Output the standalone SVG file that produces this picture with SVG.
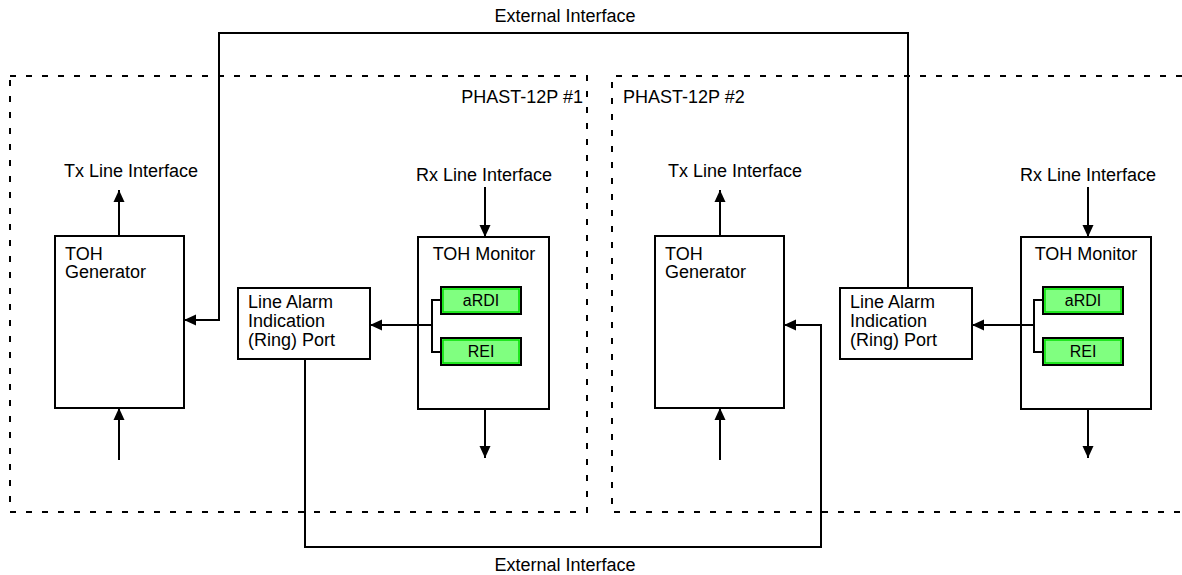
<svg xmlns="http://www.w3.org/2000/svg" width="1182" height="575" viewBox="0 0 1182 575">
<defs>
<marker id="ah" markerWidth="12" markerHeight="12" viewBox="0 0 12 12" refX="12" refY="6" orient="auto" markerUnits="userSpaceOnUse">
<path d="M0,0.5 L12,6 L0,11.5 Z" fill="#000"/>
</marker>
<style>
text{font-family:"Liberation Sans",Arial,sans-serif;font-size:18px;fill:#000}
.sm{font-size:16px}
.box{fill:#fff;stroke:#000;stroke-width:2}
.grn{fill:#80ff80;stroke:#000;stroke-width:2}
.gin{fill:none;stroke:#00e000;stroke-width:1.5}
.dash{fill:none;stroke:#000;stroke-width:2;stroke-dasharray:6 10}
.ln{fill:none;stroke:#000;stroke-width:2}
.arr{fill:none;stroke:#000;stroke-width:2;marker-end:url(#ah)}
</style>
</defs>
<rect width="1182" height="575" fill="#fff"/>
<g id="chip1">
<path class="dash" d="M10,76 H587 V512 H10 Z"/>
<text x="583" y="103" text-anchor="end">PHAST-12P #1</text>
</g>
<g id="chip2">
<path class="dash" d="M1182,76 H612 V512 H1182"/>
<text x="623" y="103">PHAST-12P #2</text>
</g>
<g id="gen1">
<rect class="box" x="55" y="236" width="129" height="172"/>
<text x="65" y="260">TOH</text>
<text x="65" y="278">Generator</text>
</g>
<g id="lai1">
<rect class="box" x="238" y="288" width="132" height="71"/>
<text x="248" y="308">Line Alarm</text>
<text x="248" y="327">Indication</text>
<text x="248" y="346">(Ring) Port</text>
</g>
<g id="mon1">
<rect class="box" x="418" y="237" width="131" height="172"/>
<text x="484" y="260" text-anchor="middle">TOH Monitor</text>
</g>
<g id="ardi1">
<rect class="grn" x="441" y="287" width="80" height="27"/>
<rect class="gin" x="443" y="289" width="76" height="23"/>
<text class="sm" x="481" y="306" text-anchor="middle">aRDI</text>
</g>
<g id="rei1">
<rect class="grn" x="441" y="338" width="80" height="27"/>
<rect class="gin" x="443" y="340" width="76" height="23"/>
<text class="sm" x="481" y="357" text-anchor="middle">REI</text>
</g>
<g id="gen2">
<rect class="box" x="655" y="236" width="129" height="172"/>
<text x="665" y="260">TOH</text>
<text x="665" y="278">Generator</text>
</g>
<g id="lai2">
<rect class="box" x="840" y="288" width="132" height="71"/>
<text x="850" y="308">Line Alarm</text>
<text x="850" y="327">Indication</text>
<text x="850" y="346">(Ring) Port</text>
</g>
<g id="mon2">
<rect class="box" x="1021" y="237" width="130" height="172"/>
<text x="1086" y="260" text-anchor="middle">TOH Monitor</text>
</g>
<g id="ardi2">
<rect class="grn" x="1043" y="287" width="80" height="27"/>
<rect class="gin" x="1045" y="289" width="76" height="23"/>
<text class="sm" x="1083" y="306" text-anchor="middle">aRDI</text>
</g>
<g id="rei2">
<rect class="grn" x="1043" y="338" width="80" height="27"/>
<rect class="gin" x="1045" y="340" width="76" height="23"/>
<text class="sm" x="1083" y="357" text-anchor="middle">REI</text>
</g>
<g id="labels">
<text x="565" y="22" text-anchor="middle">External Interface</text>
<text x="565" y="571" text-anchor="middle">External Interface</text>
<text x="131" y="177" text-anchor="middle">Tx Line Interface</text>
<text x="484" y="181" text-anchor="middle">Rx Line Interface</text>
<text x="735" y="177" text-anchor="middle">Tx Line Interface</text>
<text x="1088" y="181" text-anchor="middle">Rx Line Interface</text>
</g>
<g id="connectors">
<path class="arr" d="M119,236 V190"/>
<path class="arr" d="M119,460 V408"/>
<path class="arr" d="M485,187 V237"/>
<path class="arr" d="M485,409 V458"/>
<path class="ln" d="M441,300 H432 V352 H441"/>
<path class="arr" d="M432,325 H370"/>
<path class="arr" d="M908,288 V33 H219 V320 H184"/>
<path class="arr" d="M305,359 V547 H821 V325 H784"/>
<path class="arr" d="M720,236 V190"/>
<path class="arr" d="M720,460 V408"/>
<path class="arr" d="M1088,187 V237"/>
<path class="arr" d="M1088,409 V458"/>
<path class="ln" d="M1043,300 H1034 V352 H1043"/>
<path class="arr" d="M1034,325 H972"/>
</g>
</svg>
